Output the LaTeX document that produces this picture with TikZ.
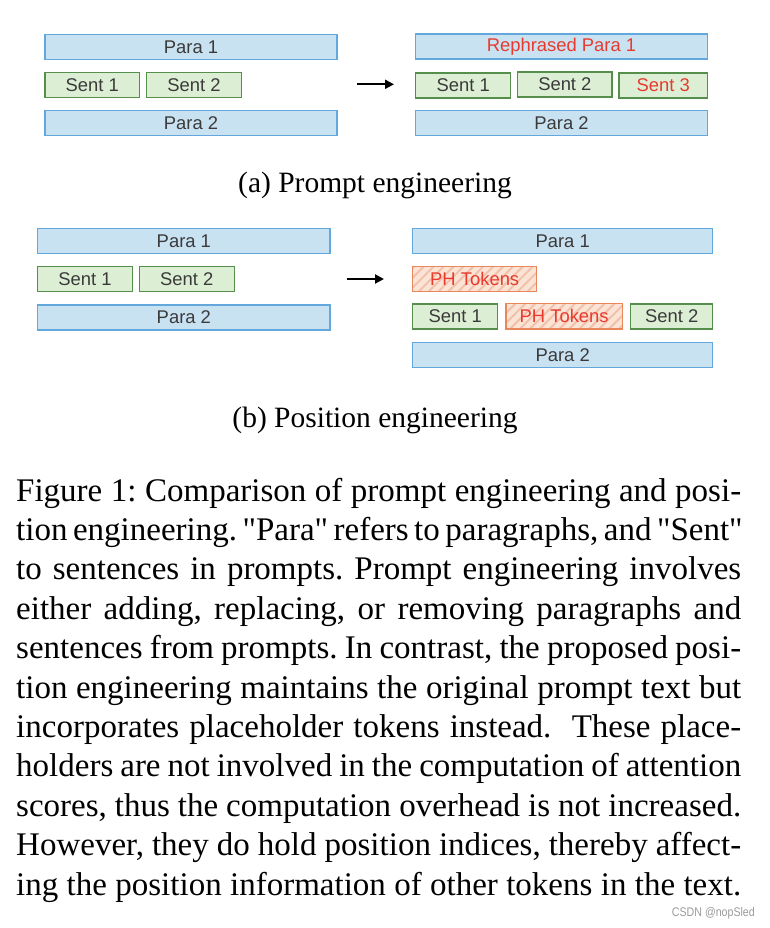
\documentclass[tikz,border=0pt]{standalone}
\usepackage{fontspec}
\setmainfont{Liberation Serif}[Ligatures=TeXOff]
\newfontfamily\boxfont{Liberation Sans}
\usetikzlibrary{arrows.meta,patterns.meta}
\definecolor{parafill}{HTML}{C9E2F2}
\definecolor{paraborder}{HTML}{62A8DC}
\definecolor{sentfill}{HTML}{DCEFD4}
\definecolor{sentborder}{HTML}{558F4B}
\definecolor{boxtext}{HTML}{3A3A3A}
\definecolor{redtext}{HTML}{E83A2E}
\definecolor{phfill}{HTML}{FBE3D6}
\definecolor{phstripe}{HTML}{F1C2A9}
\definecolor{phborder}{HTML}{E9875A}
\definecolor{wmark}{HTML}{9A9A9A}
\tikzset{
  blk/.style={inner sep=0pt, outer sep=0pt, line width=1.3pt, minimum height=25pt,
    font=\boxfont\fontsize{18.4}{20}\selectfont, text=boxtext},
  parabox/.style={blk, fill=parafill, draw=paraborder},
  sentbox/.style={blk, fill=sentfill, draw=sentborder},
  phbox/.style={blk, preaction={fill=phfill},
    pattern={Lines[angle=45,distance=7pt,line width=2pt]}, pattern color=phstripe,
    draw=phborder, text=redtext},
  arr/.style={line width=2pt, -{Triangle[length=9pt,width=9pt]}},
  subcap/.style={font=\fontsize{29.5}{35}\selectfont, inner sep=0pt},
  capline/.style={anchor=base west, inner sep=0pt, font=\fontsize{33}{39.4}\selectfont}
}
\newcommand{\capl}[1]{\makebox[725pt][s]{#1}}
\frenchspacing
\begin{document}
\begin{tikzpicture}[x=1pt,y=-1pt]
\useasboundingbox (0,0) rectangle (770,928);
% (a) left
\node[parabox, minimum width=292pt] (a1) at (191,46.8) {Para 1};
\node[sentbox, minimum width=94.5pt] (a2) at (92.2,85) {Sent 1};
\node[sentbox, minimum width=94.5pt] (a3) at (194,85) {Sent 2};
\node[parabox, minimum width=292pt] (a4) at (191,123) {Para 2};
% (a) right
\node[parabox, minimum width=291.6pt, text=redtext] (b1) at (561.5,46.4) {Rephrased Para 1};
\node[sentbox, minimum width=95pt] (b2) at (463.2,85.5) {Sent 1};
\node[sentbox, minimum width=94.3pt] (b3) at (564.85,84.5) {Sent 2};
\node[sentbox, minimum width=88.3pt, text=redtext] (b4) at (663.15,85.6) {Sent 3};
\node[parabox, minimum width=291.6pt] (b5) at (561.5,123) {Para 2};
\coordinate (as) at (357,84.3);
\coordinate (ae) at (394,84.3);
\draw[arr] (as) -- (ae);
\node[subcap] (capa) at (375,185) {(a) Prompt engineering};
% (b) left
\node[parabox, minimum width=292.3pt] (c1) at (183.85,240.8) {Para 1};
\node[sentbox, minimum width=94.6pt] (c2) at (85,279.2) {Sent 1};
\node[sentbox, minimum width=95pt] (c3) at (186.8,279.2) {Sent 2};
\node[parabox, minimum width=292.3pt] (c4) at (183.85,317.5) {Para 2};
% (b) right
\node[parabox, minimum width=300pt] (d1) at (562.7,240.8) {Para 1};
\node[phbox, minimum width=124pt] (d2) at (474.7,279.2) {PH Tokens};
\node[sentbox, minimum width=85pt] (d3) at (455.2,316.5) {Sent 1};
\node[phbox, minimum width=116.3pt, minimum height=25.5pt] (d4) at (564.15,316.2) {PH Tokens};
\node[sentbox, minimum width=82pt] (d5) at (671.7,316.5) {Sent 2};
\node[parabox, minimum width=300pt] (d6) at (562.7,354.8) {Para 2};
\coordinate (bs) at (346.7,279);
\coordinate (be) at (384,279);
\draw[arr] (bs) -- (be);
\node[subcap] (capb) at (375,420) {(b) Position engineering};
% caption
\node[capline] (l1) at (16,501) {\capl{Figure 1: Comparison of prompt engineering and posi-}};
\node[capline] (l2) at (16,540.4) {\capl{tion engineering. "Para" refers to paragraphs, and "Sent"}};
\node[capline] (l3) at (16,579.8) {\capl{to sentences in prompts. Prompt engineering involves}};
\node[capline] (l4) at (16,619.2) {\capl{either adding, replacing, or removing paragraphs and}};
\node[capline] (l5) at (16,658.6) {\capl{sentences from prompts. In contrast, the proposed posi-}};
\node[capline] (l6) at (16,698) {\capl{tion engineering maintains the original prompt text but}};
\node[capline] (l7) at (16,737.4) {\capl{incorporates placeholder tokens instead.\ \ These place-}};
\node[capline] (l8) at (16,776.8) {\capl{holders are not involved in the computation of attention}};
\node[capline] (l9) at (16,816.2) {\capl{scores, thus the computation overhead is not increased.}};
\node[capline] (l10) at (16,855.6) {\capl{However, they do hold position indices, thereby affect-}};
\node[capline] (l11) at (16,895) {\capl{ing the position information of other tokens in the text.}};
\node[anchor=base east, inner sep=0pt, text=wmark, font=\boxfont\fontsize{12.5}{14}\selectfont] (wm) at (755,916.5) {\scalebox{0.85}[1]{CSDN @nopSled}};
\end{tikzpicture}
\end{document}
